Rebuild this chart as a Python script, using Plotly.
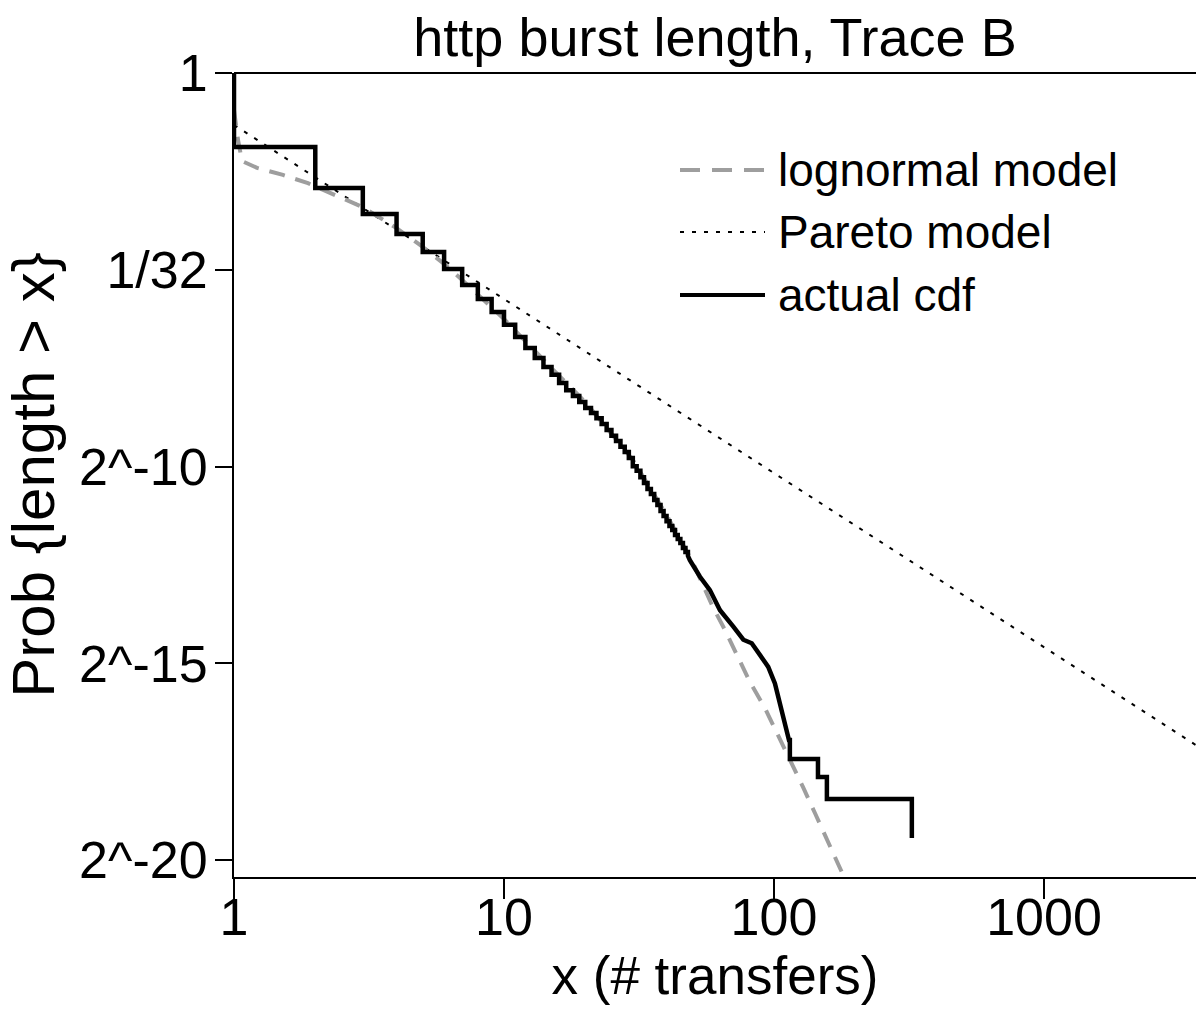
import math
import plotly.graph_objects as go

# ---------------- data ----------------
title_text = "http burst length, Trace B"
x_title = "x (# transfers)"
y_title = "Prob {length > x}"

x_tick_vals = [1, 10, 100, 1000]
x_tick_text = ["1", "10", "100", "1000"]
y_tick_exps = [0, -5, -10, -15, -20]          # powers of two
y_tick_text = ["1", "1/32", "2^-10", "2^-15", "2^-20"]

# actual cdf: integer-valued step part (x, log2 P)
step_x = [1, 2, 3, 4, 5, 6, 7, 8, 9, 10, 11, 12, 13, 14, 15, 16, 17, 18, 19, 20,
          21, 22, 23, 24, 25, 26, 27, 28, 29, 30, 31, 32, 33, 34, 35, 36, 37, 38, 39,
          40, 41, 42, 43, 44, 45, 46, 47, 48]
step_log2p = [-1.88, -2.92, -3.58, -4.09, -4.55, -4.98, -5.39, -5.74, -6.07, -6.40,
              -6.71, -6.99, -7.24, -7.47, -7.67, -7.88, -8.06, -8.21, -8.36, -8.51,
              -8.64, -8.77, -8.92, -9.07, -9.22, -9.35, -9.50, -9.63, -9.78, -9.99,
              -10.11, -10.27, -10.42, -10.57, -10.70, -10.85, -10.98, -11.13, -11.26,
              -11.39, -11.51, -11.61, -11.74, -11.84, -11.94, -12.07, -12.17, -12.27]
# actual cdf: dense middle part
mid_x = [48.8, 53.2, 57.9, 63.1, 70.7, 77.0, 82.7, 90.0, 95.2, 100.8, 105.2, 109.8, 113.6]
mid_log2p = [-12.38, -12.80, -13.14, -13.65, -14.07, -14.40, -14.49, -14.83, -15.09,
             -15.51, -16.02, -16.61, -16.95]
# actual cdf: sparse tail steps
tail_x = [114.5, 145.5, 157, 324]
tail_log2p = [-17.43, -17.89, -18.45, -19.44]

# lognormal model
logn_x = [1.0, 1.035, 1.071, 1.217, 1.518, 1.879, 3, 4, 5, 6, 7, 8, 10, 15, 20, 30, 40, 50,
          58.9, 65.9, 72.9, 81.5, 92.6, 102.6, 114.5, 128.0, 141.9, 157.0, 175.5, 181.7]
logn_log2p = [-0.94, -1.70, -2.24, -2.41, -2.59, -2.80, -3.41, -3.94, -4.42, -4.85, -5.26,
              -5.62, -6.25, -7.50, -8.36, -9.83, -11.23, -12.43, -13.52, -14.16, -14.79,
              -15.48, -16.14, -16.77, -17.41, -18.14, -18.81, -19.49, -20.18, -20.43]

# Pareto model (straight line on log-log axes)
pareto_x = [1, 3656]
pareto_log2p = [-1.32, -17.08]

legend_names = ["lognormal model", "Pareto model", "actual cdf"]

# ---------------- build ----------------
def hv_path(xs, ys, prev=None):
    px, py = [], []
    for i, (a, b) in enumerate(zip(xs, ys)):
        level = ys[i - 1] if i > 0 else prev
        if level is not None:
            px.append(a)
            py.append(level)
        px.append(a)
        py.append(b)
    return px, py

sx, sy = hv_path(step_x, step_log2p, prev=0.0)
tx, ty = hv_path(tail_x, tail_log2p, prev=mid_log2p[-1])
act_x = sx + mid_x + tx
act_y = [2.0 ** v for v in (sy + mid_log2p + ty)]

REG = "Liberation Sans, Arial, sans-serif"
GRAY = "rgb(158,158,158)"

fig = go.Figure()
fig.add_trace(go.Scatter(x=pareto_x, y=[2.0 ** v for v in pareto_log2p], mode="lines",
                         name=legend_names[1],
                         line=dict(color="black", width=2, dash="4px,8px")))
fig.add_trace(go.Scatter(x=logn_x, y=[2.0 ** v for v in logn_log2p], mode="lines",
                         name=legend_names[0],
                         line=dict(color=GRAY, width=4, dash="16px,11px")))
fig.add_trace(go.Scatter(x=act_x, y=act_y, mode="lines", name=legend_names[2],
                         line=dict(color="black", width=4.5)))

ymin_exp = -20.43
fig.update_layout(
    width=1196, height=1019,
    margin=dict(l=234, r=0, t=73, b=142, autoexpand=False),
    plot_bgcolor="white", paper_bgcolor="white",
    showlegend=False,
    title=dict(text=title_text, x=0.5, xref="paper", xanchor="center",
               y=1 - 37 / 1019, yref="container", yanchor="middle",
               font=dict(family=REG, size=54, color="black")),
    xaxis=dict(type="log", range=[0, math.log10(3656)], automargin=False,
               tickvals=x_tick_vals, ticktext=x_tick_text,
               ticks="outside", ticklen=20, tickwidth=2, tickcolor="black",
               ticklabelstandoff=-26,
               showline=True, linecolor="black", linewidth=2,
               showgrid=False, zeroline=False,
               tickfont=dict(family=REG, size=52, color="black"),
               title=dict(text=x_title, font=dict(family=REG, size=53, color="black"), standoff=10)),
    yaxis=dict(type="log", range=[ymin_exp * math.log10(2), 0], automargin=False,
               tickvals=[2.0 ** e for e in y_tick_exps], ticktext=y_tick_text,
               ticks="outside", ticklen=17, tickwidth=2, tickcolor="black",
               ticklabelstandoff=-3,
               showline=True, linecolor="black", linewidth=2,
               showgrid=False, zeroline=False,
               tickfont=dict(family=REG, size=52, color="black"),
               title=dict(text=y_title, font=dict(family=REG, size=60, color="black"), standoff=10)),
)

# top frame line
fig.add_shape(type="line", xref="paper", yref="paper", x0=0, x1=1, y0=1, y1=1,
              line=dict(color="black", width=2))

# manual legend (long line samples as in the reference)
def py(p):
    return (877 - p) / 804
def pxp(p):
    return (p - 234) / 962

leg_rows = [170, 232, 295]
leg_styles = [dict(color=GRAY, width=4, dash="20px,12px"),
              dict(color="black", width=2, dash="4px,8px"),
              dict(color="black", width=4)]
for name, row, st in zip(legend_names, leg_rows, leg_styles):
    fig.add_shape(type="line", xref="paper", yref="paper",
                  x0=pxp(680), x1=pxp(765), y0=py(row), y1=py(row), line=st)
    fig.add_annotation(text=name, xref="paper", yref="paper", x=pxp(776), y=py(row),
                       xanchor="left", yanchor="middle", showarrow=False,
                       font=dict(family=REG, size=46, color="black"))

fig.write_html("out.html")
